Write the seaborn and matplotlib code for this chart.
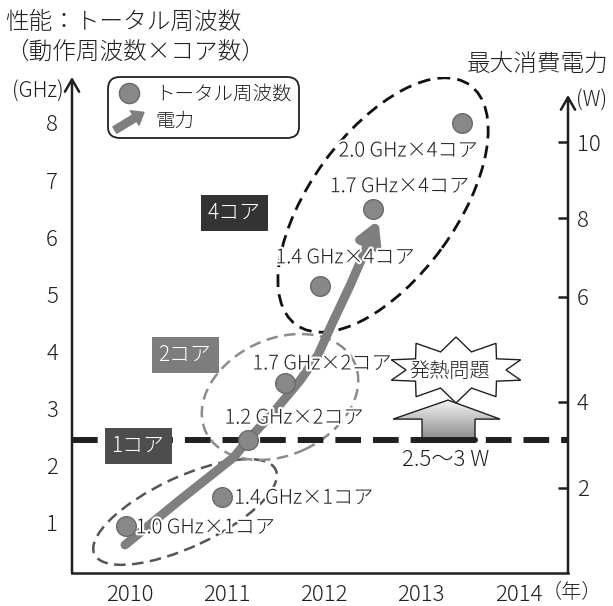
import numpy as np
import pandas as pd
import matplotlib
matplotlib.use("Agg")
import matplotlib.pyplot as plt
import matplotlib.patches as mpatches
import matplotlib.transforms as mtransforms
import matplotlib.patheffects as pe
from matplotlib.lines import Line2D
from matplotlib.path import Path
from matplotlib.legend_handler import HandlerPatch
from matplotlib.colors import LinearSegmentedColormap
from matplotlib.ticker import NullLocator
import seaborn as sns

# ---------------- data ----------------
point_labels = ["1.0 GHz×1コア", "1.4 GHz×1コア", "1.2 GHz×2コア", "1.7 GHz×2コア",
                "1.4 GHz×4コア", "1.7 GHz×4コア", "2.0 GHz×4コア"]
point_years = [2009.96, 2010.95, 2011.22, 2011.60, 2011.96, 2012.50, 2013.42]
total_ghz = [0.95, 1.45, 2.45, 3.45, 5.15, 6.50, 8.00]

power_years = [2009.955, 2010.52, 2011.076, 2011.22, 2011.50, 2011.75, 2011.94, 2012.09, 2012.27, 2012.56]
power_watts = [0.66, 1.72, 2.72, 3.12, 3.81, 4.40, 4.90, 5.52, 6.30, 7.95]

year_labels = ["2010", "2011", "2012", "2013", "2014"]
ghz_ticks = [1, 2, 3, 4, 5, 6, 7, 8]
watt_ticks = [2, 4, 6, 8, 10]
limit_ghz = 2.45
core_labels = ["1コア", "2コア", "4コア"]

# ---------------- style ----------------
sns.set_style("white")
plt.rcParams["font.family"] = ["Noto Sans CJK JP", "DejaVu Sans"]
plt.rcParams["font.weight"] = "light"
ink = "#231f20"
dot_face = "#888888"
dot_edge = "#6a6a6a"
curve_gray = "#7f7f7f"

W, H = 613, 606
fig = plt.figure(figsize=(W / 100, H / 100), dpi=100)
ax_l, ax_r, ax_b, ax_t = 72, 568, 573, 77
ax = fig.add_axes([ax_l / W, 1 - ax_b / H, (ax_r - ax_l) / W, (ax_b - ax_t) / H])

# right (W) axis scale: the printed scale is uneven, mapped piecewise onto the GHz axis
watt_anchor = [-100, 0, 2, 4, 6, 8, 10, 100]
ghz_anchor = [-74.3, 0.124, 1.612, 3.118, 4.955, 6.337, 7.667, 67.5]


def w_to_ghz(w):
    return np.interp(w, watt_anchor, ghz_anchor)


def ghz_to_w(g):
    return np.interp(g, ghz_anchor, watt_anchor)


def px_trans(x, y):
    # shapes given in inches, anchored at a data point
    return fig.dpi_scale_trans + mtransforms.ScaledTranslation(x, y, ax.transData)


# ---------------- ellipses (groups) ----------------
ellipses = [
    dict(c=(2010.572, 1.192), w=2.00, h=0.70, a=25, col="#555555", lw=1.8),
    dict(c=(2011.548, 3.205), w=1.64, h=1.16, a=25, col="#8c8c8c", lw=1.8),
    dict(c=(2012.607, 6.565), w=2.96, h=1.46, a=54, col="#111111", lw=2.0),
]
for e in ellipses:
    ax.add_patch(mpatches.Ellipse((0, 0), e["w"], e["h"], angle=e["a"], fill=False,
                                  ec=e["col"], lw=e["lw"], ls=(0, (4.6, 2.6)),
                                  transform=px_trans(*e["c"]), zorder=2))

# ---------------- 1-core limit line ----------------
ax.axhline(limit_ghz, color=ink, lw=4.3, ls=(0, (4.3, 2.0)), zorder=2.5)

# ---------------- power trend arrow ----------------
curve = np.column_stack([power_years, w_to_ghz(np.array(power_watts))])
arrow = mpatches.FancyArrowPatch(path=Path(curve), arrowstyle="-|>,head_length=0.75,head_width=0.42",
                                 mutation_scale=16, lw=6.5, color=curve_gray, zorder=3)
ax.add_patch(arrow)

# ---------------- points ----------------
df = pd.DataFrame({"year": point_years, "ghz": total_ghz, "label": point_labels})
sns.scatterplot(data=df, x="year", y="ghz", ax=ax, s=200, color=dot_face,
                edgecolor=dot_edge, linewidth=1.0, zorder=4, legend=False)

label_offsets = [(80, -2), (82, -1), (46, 22), (37, 19), (25, 28), (27, 22), (-54, -28)]
halo = [pe.withStroke(linewidth=3, foreground="white")]
for (_, r), off in zip(df.iterrows(), label_offsets):
    ax.annotate(r["label"], (r["year"], r["ghz"]), xytext=off, textcoords="offset pixels",
                ha="center", va="center", fontsize=14.5, color=ink, path_effects=halo, zorder=5)

# ---------------- core boxes ----------------
core_pos = [(2010.089, 2.347), (2010.572, 3.938), (2011.076, 6.423)]
core_fc = ["#4d4d4d", "#7d7d7d", "#333333"]
for lab, (x, y), fc in zip(core_labels, core_pos, core_fc):
    ax.text(x, y, lab, color="white", fontsize=15, ha="center", va="center", zorder=6,
            bbox=dict(boxstyle="square,pad=0.34", fc=fc, ec="none"))

# ---------------- heat problem: up arrow + burst ----------------
up_anchor = (2013.275, limit_ghz)
tr = px_trans(*up_anchor)
up_verts = np.array([(-26, 0), (-26, 21), (-55, 21), (0, 40), (52, 21), (27, 21), (27, 0), (-26, 0)]) / 100
up_patch = mpatches.Polygon(up_verts, closed=True, fc="none", ec=ink, lw=1.0, transform=tr, zorder=4.2)
ax.add_patch(up_patch)
grad_cmap = LinearSegmentedColormap.from_list("g", ["#8a8a8a", "#f6f6f6"])
im = ax.imshow(np.linspace(0, 1, 64).reshape(-1, 1), extent=(-0.56, 0.53, 0, 0.41), origin="lower",
               cmap=grad_cmap, aspect="auto", transform=tr, zorder=4.1, interpolation="bilinear")
im.set_clip_path(up_patch)
ax.add_line(Line2D([-0.26, 0.27], [0, 0], lw=4.3, color=ink, transform=tr, zorder=4.3))

n_spk = 10
ang = np.linspace(np.pi / 2, np.pi / 2 + 2 * np.pi, 2 * n_spk, endpoint=False)
rx = np.where(np.arange(2 * n_spk) % 2 == 0, 0.68, 0.50)
ry = np.where(np.arange(2 * n_spk) % 2 == 0, 0.33, 0.19)
star = np.column_stack([rx * np.cos(ang), ry * np.sin(ang)])
ax.add_patch(mpatches.Polygon(star, closed=True, fc="white", ec=ink, lw=1.0,
                              transform=px_trans(2013.357, 3.677), zorder=4.5))
ax.text(2013.296, 3.644, "発熱問題", fontsize=14.5, ha="center", va="center", color=ink, zorder=5)
ax.text(2013.254, 2.102, "2.5〜3 W", fontsize=16, ha="center", va="center", color=ink, zorder=5)

# ---------------- axes ----------------
ax.set_xlim(2009.41, 2014.508)
ax.set_ylim(0.124, 8.805)
years = [int(y) for y in year_labels]
bounds = [(a + b) / 2 for a, b in zip(years[:-1], years[1:])]
ax.set_xticks(bounds)
ax.set_xticks(years, minor=True)
ax.set_xticklabels(year_labels, minor=True)
ax.tick_params(axis="x", which="major", direction="in", length=7.2, width=1.8, color=ink, labelbottom=False)
ax.tick_params(axis="x", which="minor", direction="in", length=0, labelsize=16, pad=8, labelcolor=ink)
ax.set_yticks(ghz_ticks)
ax.tick_params(axis="y", direction="in", length=7.2, width=1.8, color=ink, labelsize=16, pad=10,
               labelcolor=ink)
ax.set_xlabel("")
ax.set_ylabel("")
for s in ["left", "right", "top"]:
    ax.spines[s].set_visible(False)
ax.spines["bottom"].set_linewidth(1.8)
ax.spines["bottom"].set_color(ink)

sec = ax.secondary_yaxis("right", functions=(ghz_to_w, w_to_ghz))
sec.set_yticks(watt_ticks)
sec.yaxis.set_minor_locator(NullLocator())
sec.tick_params(direction="in", length=7.2, width=1.8, color=ink, labelsize=16, pad=6.5, labelcolor=ink)
for s in sec.spines.values():
    s.set_visible(False)

axis_arrow = dict(arrowstyle="->,head_length=0.55,head_width=0.32", lw=1.8, color=ink,
                  shrinkA=0, shrinkB=0, mutation_scale=16)
right_top = (ax_b - 95) / (ax_b - ax_t)
for x0, y1 in [(0, 1.0), (1, right_top)]:
    a = ax.annotate("", xy=(x0, y1), xycoords="axes fraction", xytext=(x0, 0),
                    textcoords="axes fraction", arrowprops=axis_arrow, annotation_clip=False)
    a.set_clip_on(False)
    a.arrow_patch.set_clip_on(False)

# ---------------- legend ----------------
def make_arrow(legend, orig_handle, xdescent, ydescent, width, height, fontsize):
    return mpatches.FancyArrow(-xdescent, -ydescent - 0.25 * height, width, 1.3 * height,
                               width=0.55 * height, head_width=1.25 * height,
                               head_length=0.8 * height, length_includes_head=True)


h_dot = Line2D([], [], marker="o", ls="none", markersize=14.5, markerfacecolor=dot_face,
               markeredgecolor=dot_edge, label="トータル周波数")
h_pow = mpatches.FancyArrow(0, 0, 1, 1, color=curve_gray, label="電力")
leg = ax.legend(handles=[h_dot, h_pow], handler_map={mpatches.FancyArrow: HandlerPatch(patch_func=make_arrow)},
                loc="upper left", bbox_to_anchor=(108 / W, 1 - 77 / H), bbox_transform=fig.transFigure,
                borderaxespad=0, fontsize=14, frameon=True, fancybox=True, framealpha=1,
                borderpad=0.35, labelspacing=0.3, handlelength=1.5, handletextpad=0.6)
leg.get_frame().set_edgecolor(ink)
leg.get_frame().set_linewidth(1.3)
leg.get_frame().set_boxstyle("round,pad=0,rounding_size=0.6")
for t in leg.get_texts():
    t.set_color(ink)
leg.set_zorder(7)

# ---------------- titles & units ----------------
fig.text(5 / W, 1 - 22.5 / H, "性能：トータル周波数", fontsize=17, ha="left", va="center", color=ink)
fig.text(5 / W, 1 - 52.5 / H, "（動作周波数×コア数）", fontsize=17, ha="left", va="center", color=ink)
fig.text(608 / W, 1 - 64 / H, "最大消費電力", fontsize=17, ha="right", va="center", color=ink)
fig.text(64 / W, 1 - 92 / H, "(GHz)", fontsize=15, ha="right", va="center", color=ink)
fig.text(576 / W, 1 - 101 / H, "(W)", fontsize=15, ha="left", va="center", color=ink)
fig.text(572 / W, 1 - 593 / H, "（年）", fontsize=14.5, ha="center", va="center", color=ink)

fig.savefig("out.png", dpi=100)
